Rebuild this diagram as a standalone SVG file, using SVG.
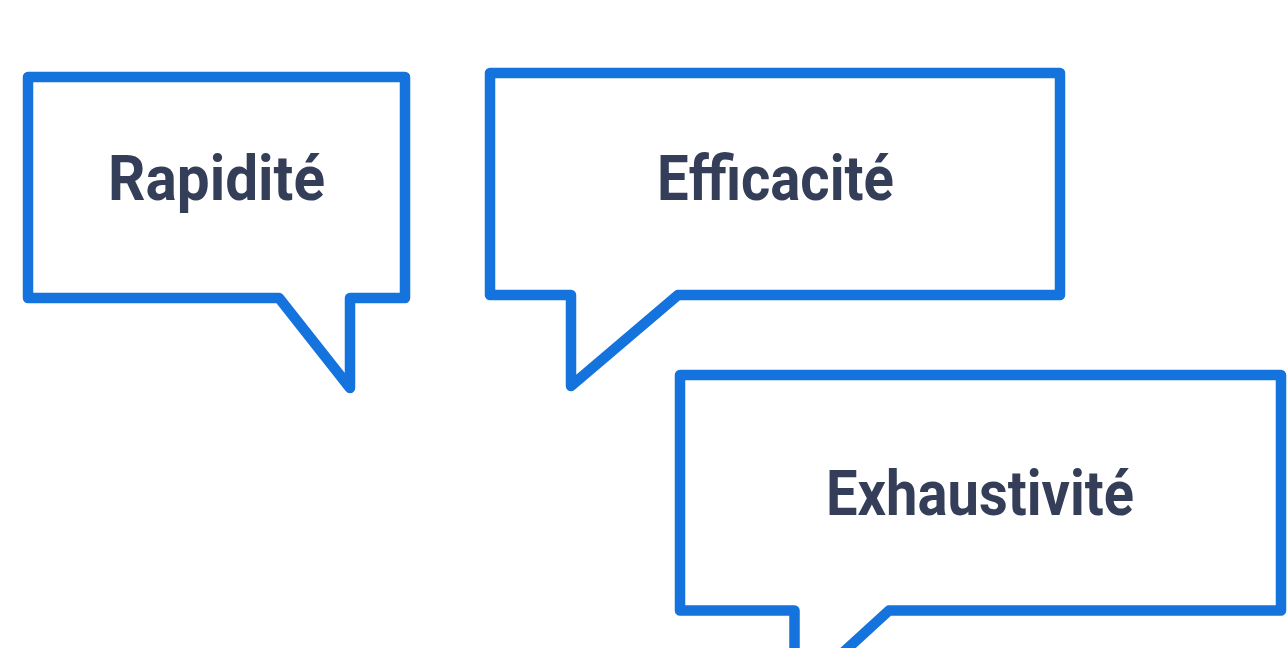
<svg xmlns="http://www.w3.org/2000/svg" width="1287" height="648" viewBox="0 0 1287 648">
  <style>
    .bubble { fill: #ffffff; stroke: #1473dc; stroke-width: 10.5; stroke-linejoin: round; stroke-linecap: round; }
    .label { font-family: "Roboto", "Liberation Sans", sans-serif; font-weight: 700; font-size: 63px; fill: #343e58; text-anchor: middle; }
  </style>
  <rect width="1287" height="648" fill="#ffffff"/>
  <g id="bubble-rapidite">
    <path class="bubble" d="M28,77 H405 V298 H350 V388 L279,298 H28 Z"/>
    <text class="label" x="216.5" y="200" textLength="217" lengthAdjust="spacingAndGlyphs">Rapidité</text>
  </g>
  <g id="bubble-efficacite">
    <path class="bubble" d="M490,73 H1060 V295 H678 L571,386 V295 H490 Z"/>
    <text class="label" x="775.5" y="200" textLength="237" lengthAdjust="spacingAndGlyphs">Efficacité</text>
  </g>
  <g id="bubble-exhaustivite">
    <path class="bubble" d="M680,375 H1281 V610.5 H889 L794.5,697 V610.5 H680 Z"/>
    <text class="label" x="980" y="514.5" textLength="308" lengthAdjust="spacingAndGlyphs">Exhaustivité</text>
  </g>
  <g id="connectors"/>
</svg>
